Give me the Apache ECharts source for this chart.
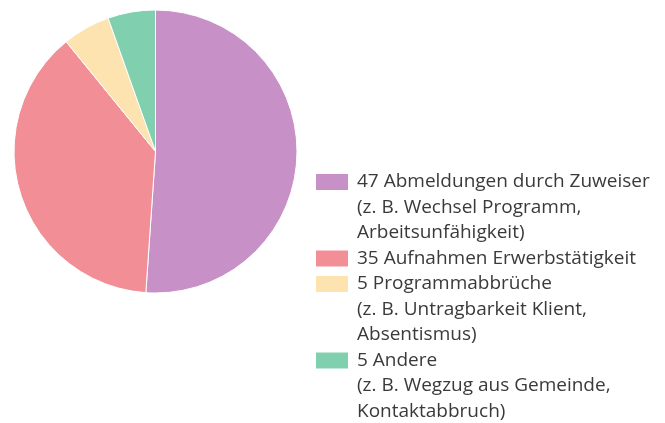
<!DOCTYPE html>
<html>
	<head>
		<meta charset="utf-8" />
		<title></title>
		<script type="text/javascript" src="https://cdn.jsdelivr.net/npm/echarts@6/dist/echarts.min.js"></script>
	</head>
	<body style="margin:0;">
		<div id="chart" style="width: 665px;height:423px;"></div>
	</body>
</html>
<script type="text/javascript">
	// Daten
	var names = ['Abmeldungen durch Zuweiser', 'Aufnahmen Erwerbstätigkeit', 'Programmabbrüche', 'Andere'];
	var values = [47, 35, 5, 5];
	var notes = [
		['(z. B. Wechsel Programm,', 'Arbeitsunfähigkeit)'],
		[],
		['(z. B. Untragbarkeit Klient,', 'Absentismus)'],
		['(z. B. Wegzug aus Gemeinde,', 'Kontaktabbruch)']
	];
	var colors = ['#C791C7', '#F28E96', '#FDE3B0', '#80CFAE'];

	var lineH = 25.5;   // Zeilenhöhe Legende
	var firstY = 182;   // Mitte des ersten Legendensymbols

	var data = names.map(function (n, i) {
		return { name: values[i] + ' ' + n, value: values[i], itemStyle: { color: colors[i] } };
	});

	// eine Legende pro Eintrag; leere Zeilen davor, damit das Symbol an der ersten Zeile steht
	var legends = [];
	var y = firstY;
	data.forEach(function (d, i) {
		var extra = notes[i].length;
		var lines = 1 + extra;
		var pad = [];
		for (var k = 0; k < extra; k++) pad.push('');
		legends.push({
			orient: 'vertical',
			left: 314,
			top: y - (2 * lines - 1) * lineH / 2,
			padding: 0,
			itemWidth: 34,
			itemHeight: 18,
			icon: 'rect',
			selectedMode: false,
			data: [d.name],
			formatter: function (name) {
				return pad.concat([name], notes[i]).join('\n');
			},
			textStyle: {
				fontFamily: 'Open Sans',
				fontSize: 19,
				color: '#3a3a3a',
				lineHeight: lineH,
				padding: [0, 0, 0, 3]
			}
		});
		y += lines * lineH;
	});

	var chart = echarts.init(document.getElementById('chart'));
	chart.setOption({
		backgroundColor: '#fff',
		animation: false,
		legend: legends,
		series: [{
			type: 'pie',
			center: [155.5, 151.5],
			radius: 141.5,
			startAngle: 90,
			clockwise: true,
			label: { show: false },
			labelLine: { show: false },
			itemStyle: { borderColor: '#fff', borderWidth: 1 },
			data: data
		}]
	});
</script>
